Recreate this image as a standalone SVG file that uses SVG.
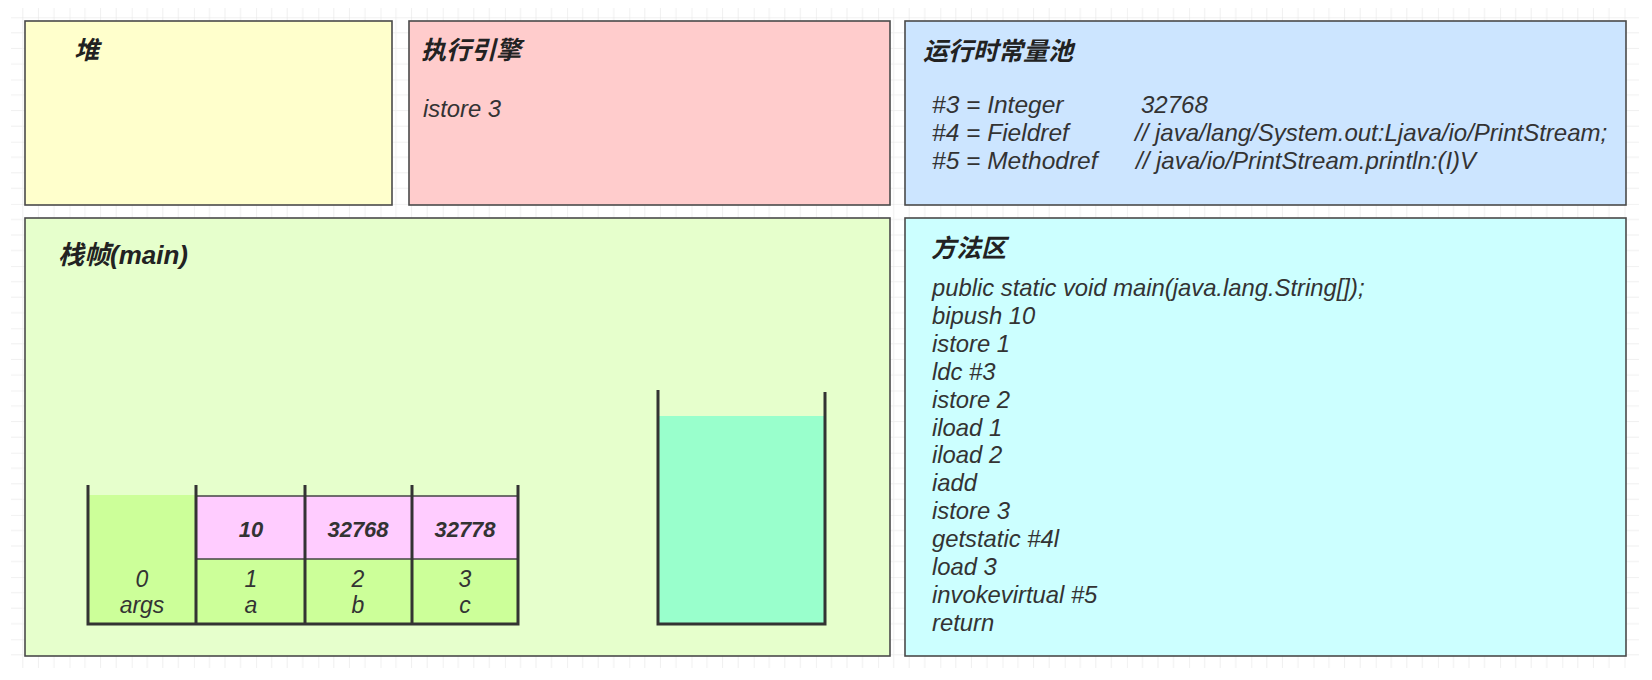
<svg xmlns="http://www.w3.org/2000/svg" width="1652" height="680" viewBox="0 0 1652 680">
<style>
.box{stroke:#4a4a4a;stroke-width:1.6}
.t{font-family:"Liberation Sans","Noto Sans CJK SC",sans-serif;font-style:italic;fill:#333;font-size:23.8px}
.h{font-family:"Liberation Sans","Noto Sans CJK SC",sans-serif;font-style:italic;font-weight:bold;fill:#222;font-size:25px}
.v{font-family:"Liberation Sans","Noto Sans CJK SC",sans-serif;font-style:italic;font-weight:bold;fill:#333;font-size:22px;text-anchor:middle}
.c{font-family:"Liberation Sans","Noto Sans CJK SC",sans-serif;font-style:italic;fill:#333;font-size:23px;text-anchor:middle}
.wall{stroke:#333;stroke-width:3;fill:none}
.thin{stroke:#444;stroke-width:1.5;fill:none}
</style>
<defs>
<pattern id="grid" patternUnits="userSpaceOnUse" x="69.5" y="17.3" width="62.2" height="62.2">
<path d="M15.55 0V62.2M31.1 0V62.2M46.65 0V62.2M0 15.55H62.2M0 31.1H62.2M0 46.65H62.2" stroke="#efefef" stroke-width="1" fill="none"/>
<path d="M0 0V62.2M0 0H62.2" stroke="#e3e3e3" stroke-width="1" fill="none"/>
</pattern>
</defs>
<rect x="0" y="0" width="1652" height="680" fill="#ffffff"/>
<rect x="11" y="8" width="1628" height="660" fill="url(#grid)"/>

<g id="heap">
<rect class="box" x="25" y="21" width="367" height="184" fill="#FFFFCC"/>
<text class="h" x="74" y="59">堆</text>
</g>

<g id="engine">
<rect class="box" x="409" y="21" width="481" height="184" fill="#FFCCCC"/>
<text class="h" x="421" y="59">执行引擎</text>
<text class="t" x="423" y="117">istore 3</text>
</g>

<g id="constant-pool">
<rect class="box" x="905" y="21" width="721" height="184" fill="#CCE5FF"/>
<text class="h" x="923" y="60">运行时常量池</text>
<text class="t" x="932" y="113" style="font-size:24.5px">#3 = Integer</text>
<text class="t" x="1141" y="113" style="font-size:24px">32768</text>
<text class="t" x="932" y="141" style="font-size:24.5px">#4 = Fieldref</text>
<text class="t" x="1135" y="141" style="font-size:24px">// java/lang/System.out:Ljava/io/PrintStream;</text>
<text class="t" x="932" y="169" style="font-size:24.5px">#5 = Methodref</text>
<text class="t" x="1136" y="169" style="font-size:24px">// java/io/PrintStream.println:(I)V</text>
</g>

<g id="stack-frame">
<rect class="box" x="25" y="218" width="865" height="438" fill="#E6FFCC"/>
<text class="h" x="58" y="264" style="font-size:26px">栈帧(main)</text>
</g>

<g id="local-vars">
<rect x="88" y="495" width="108" height="129" fill="#CCFF99"/>
<rect x="196" y="496" width="322" height="63" fill="#FFCCFF"/>
<rect x="196" y="559" width="322" height="65" fill="#CCFF99"/>
<path class="thin" d="M196 496H518M196 559H518"/>
<path class="wall" d="M88 485V624H518V485M196 485V624M305 485V624M412 485V624"/>
<text class="v" x="251" y="537">10</text>
<text class="v" x="358" y="537">32768</text>
<text class="v" x="465" y="537">32778</text>
<text class="c" x="142" y="587">0</text>
<text class="c" x="142" y="613">args</text>
<text class="c" x="251" y="587">1</text>
<text class="c" x="251" y="613">a</text>
<text class="c" x="358" y="587">2</text>
<text class="c" x="358" y="613">b</text>
<text class="c" x="465" y="587">3</text>
<text class="c" x="465" y="613">c</text>
</g>

<g id="operand-stack">
<rect x="659" y="416" width="166" height="208" fill="#99FFCC"/>
<path class="wall" d="M658 390V624H825V392"/>
</g>

<g id="method-area">
<rect class="box" x="905" y="218" width="721" height="438" fill="#CCFFFF"/>
<text class="h" x="931" y="257">方法区</text>
<text class="t" x="932" y="296">public static void main(java.lang.String[]);</text>
<text class="t" x="932" y="323.9">bipush 10</text>
<text class="t" x="932" y="351.8">istore 1</text>
<text class="t" x="932" y="379.7">ldc #3</text>
<text class="t" x="932" y="407.6">istore 2</text>
<text class="t" x="932" y="435.5">iload 1</text>
<text class="t" x="932" y="463.4">iload 2</text>
<text class="t" x="932" y="491.3">iadd</text>
<text class="t" x="932" y="519.2">istore 3</text>
<text class="t" x="932" y="547.1">getstatic #4l</text>
<text class="t" x="932" y="575">load 3</text>
<text class="t" x="932" y="602.9">invokevirtual #5</text>
<text class="t" x="932" y="630.8">return</text>
</g>

<g id="connectors"></g>
</svg>
